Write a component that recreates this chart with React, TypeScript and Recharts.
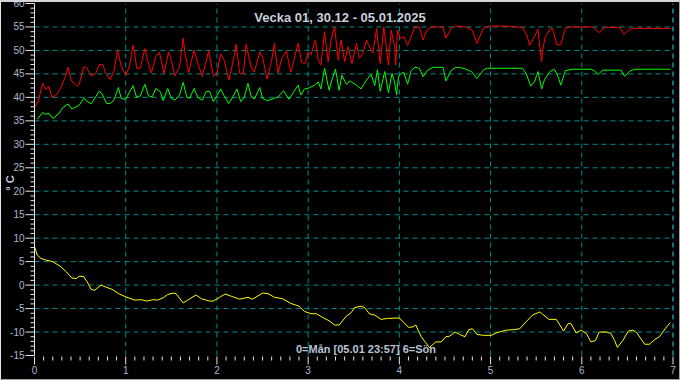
import React from 'react';
import { LineChart, Line, XAxis, YAxis, ReferenceLine } from 'recharts';

// [dag, °C] – 0 = måndag
const maxTemp: [number, number][] = [
  [0, 37.9], [0.04, 39.1], [0.09, 43.0], [0.12, 41.7], [0.16, 42.3], [0.19, 40.0], [0.24, 40.5],
  [0.28, 41.7], [0.33, 44.0], [0.37, 46.4], [0.4, 43.7], [0.46, 42.4], [0.49, 42.8], [0.54, 46.5],
  [0.57, 46.4], [0.62, 44.6], [0.67, 45.0], [0.71, 47.0], [0.75, 47.0], [0.78, 45.1], [0.83, 43.8],
  [0.87, 45.5], [0.91, 50.1], [0.95, 46.7], [1.0, 44.7], [1.04, 46.5], [1.08, 51.1], [1.1, 49.2],
  [1.12, 46.2], [1.16, 46.2], [1.21, 50.4], [1.24, 47.9], [1.28, 45.2], [1.33, 48.7], [1.37, 49.6],
  [1.42, 45.1], [1.47, 49.7], [1.5, 47.9], [1.54, 44.6], [1.59, 46.5], [1.63, 52.6], [1.65, 49.4],
  [1.69, 45.3], [1.75, 50.1], [1.79, 47.2], [1.84, 44.5], [1.91, 49.9], [1.96, 44.5], [2.0, 45.1],
  [2.04, 49.2], [2.08, 47.9], [2.13, 43.7], [2.18, 47.9], [2.21, 51.3], [2.25, 45.1], [2.29, 45.1],
  [2.32, 51.3], [2.375, 46.5], [2.41, 45.4], [2.47, 49.7], [2.5, 48.6], [2.55, 43.9], [2.6, 47.9],
  [2.63, 51.5], [2.67, 45.1], [2.71, 48.3], [2.76, 49.9], [2.81, 45.4], [2.84, 47.6], [2.89, 51.5],
  [2.93, 47.4], [2.97, 47.2], [3.0, 49.7], [3.03, 49.0], [3.08, 52.2], [3.11, 47.9], [3.14, 46.9],
  [3.18, 54.0], [3.22, 47.6], [3.25, 52.2], [3.29, 55.0], [3.33, 47.9], [3.36, 52.2], [3.4, 47.6],
  [3.44, 50.8], [3.48, 47.2], [3.53, 51.5], [3.56, 48.3], [3.6, 49.4], [3.64, 52.2], [3.67, 50.8],
  [3.71, 49.4], [3.75, 54.7], [3.79, 47.2], [3.83, 55.0], [3.88, 46.9], [3.91, 54.3], [3.95, 50.8],
  [3.96, 46.9], [3.98, 54.3], [4.01, 52.6], [4.05, 52.9], [4.09, 51.1], [4.13, 52.9], [4.17, 55.0],
  [4.22, 55.0], [4.26, 52.2], [4.3, 54.3], [4.35, 55.0], [4.48, 55.0], [4.51, 52.6], [4.57, 54.7],
  [4.62, 55.2], [4.73, 55.0], [4.8, 54.3], [4.85, 51.5], [4.92, 54.7], [4.99, 55.2], [5.15, 55.2],
  [5.35, 54.9], [5.39, 53.6], [5.43, 51.1], [5.48, 52.9], [5.52, 54.5], [5.54, 50.8], [5.56, 47.6],
  [5.57, 50.1], [5.6, 52.9], [5.65, 54.5], [5.68, 54.7], [5.73, 51.1], [5.77, 51.3], [5.82, 54.7],
  [5.87, 55.0], [6.12, 55.0], [6.19, 53.8], [6.25, 54.9], [6.42, 54.9], [6.46, 53.4], [6.53, 54.5],
  [6.56, 54.7], [6.97, 54.7],
];

const midTemp: [number, number][] = [
  [0.03, 35.3], [0.09, 36.8], [0.12, 36.4], [0.16, 36.6], [0.2, 35.5], [0.26, 36.4], [0.31, 37.8],
  [0.37, 38.6], [0.41, 37.5], [0.49, 38.3], [0.54, 39.8], [0.57, 39.3], [0.62, 38.6], [0.71, 41.3],
  [0.74, 40.8], [0.79, 38.7], [0.83, 38.7], [0.87, 39.4], [0.92, 42.1], [0.95, 39.8], [1.0, 39.6],
  [1.08, 42.5], [1.12, 40.0], [1.16, 40.3], [1.21, 42.8], [1.25, 40.3], [1.29, 40.1], [1.33, 41.9],
  [1.38, 41.2], [1.41, 39.3], [1.46, 41.9], [1.5, 39.8], [1.54, 39.4], [1.59, 40.5], [1.63, 43.2],
  [1.67, 40.0], [1.7, 39.8], [1.75, 41.9], [1.79, 40.0], [1.84, 39.4], [1.88, 41.2], [1.92, 41.3],
  [1.96, 39.1], [2.0, 40.3], [2.04, 41.8], [2.08, 40.3], [2.13, 38.7], [2.18, 40.3], [2.22, 41.8],
  [2.26, 39.1], [2.3, 40.0], [2.34, 43.0], [2.375, 40.3], [2.41, 39.6], [2.47, 42.1], [2.5, 39.8],
  [2.55, 39.3], [2.63, 39.8], [2.67, 40.1], [2.73, 41.4], [2.79, 39.6], [2.83, 40.8], [2.89, 42.6],
  [2.92, 40.5], [2.96, 41.8], [3.01, 42.0], [3.07, 42.6], [3.11, 43.3], [3.14, 41.8], [3.18, 46.2],
  [3.23, 41.5], [3.26, 43.7], [3.3, 46.0], [3.34, 41.5], [3.37, 44.7], [3.42, 42.8], [3.46, 43.5],
  [3.53, 42.6], [3.58, 41.8], [3.64, 43.7], [3.69, 44.9], [3.73, 42.5], [3.76, 45.9], [3.79, 41.3],
  [3.84, 45.5], [3.88, 41.0], [3.92, 45.1], [3.95, 43.0], [3.97, 40.5], [3.99, 44.4], [4.02, 45.1],
  [4.05, 45.3], [4.09, 42.8], [4.13, 45.7], [4.17, 46.4], [4.22, 46.2], [4.26, 44.4], [4.31, 45.8],
  [4.37, 46.4], [4.48, 46.4], [4.51, 43.5], [4.57, 45.8], [4.62, 46.4], [4.66, 46.4], [4.73, 46.0],
  [4.79, 45.5], [4.85, 44.0], [4.92, 45.8], [4.96, 46.2], [5.35, 46.2], [5.39, 45.1], [5.44, 42.4],
  [5.48, 43.3], [5.52, 45.5], [5.56, 41.8], [5.59, 43.7], [5.65, 45.5], [5.7, 46.0], [5.74, 44.4],
  [5.77, 42.6], [5.82, 45.7], [5.9, 46.0], [6.1, 46.0], [6.14, 45.6], [6.18, 44.9], [6.23, 45.8],
  [6.43, 45.8], [6.47, 44.5], [6.53, 45.6], [6.58, 46.0], [6.97, 46.0],
];

const outTemp: [number, number][] = [
  [0, 8.2], [0.03, 6.4], [0.07, 5.7], [0.13, 5.3], [0.2, 5.0], [0.29, 3.9], [0.35, 2.8], [0.41, 1.5],
  [0.46, 1.4], [0.49, 1.9], [0.54, 1.8], [0.59, 0.3], [0.62, -0.9], [0.66, -1.1], [0.73, 0.0],
  [0.78, -0.4], [0.85, -0.9], [0.93, -1.9], [1.0, -2.5], [1.1, -3.2], [1.17, -3.1], [1.23, -3.4],
  [1.3, -3.1], [1.35, -3.2], [1.41, -2.7], [1.46, -2.0], [1.52, -1.7], [1.55, -1.8], [1.63, -3.8],
  [1.68, -3.2], [1.77, -2.1], [1.83, -2.9], [1.92, -3.4], [1.96, -3.4], [2.03, -2.6], [2.09, -1.9],
  [2.16, -2.4], [2.25, -3.0], [2.34, -2.6], [2.39, -3.0], [2.45, -2.3], [2.5, -1.7], [2.56, -1.8],
  [2.63, -2.6], [2.72, -2.9], [2.81, -3.9], [2.9, -4.5], [2.96, -5.6], [3.03, -6.1], [3.09, -6.1],
  [3.16, -6.9], [3.23, -7.6], [3.29, -8.5], [3.34, -8.5], [3.42, -6.6], [3.47, -5.9], [3.51, -4.8],
  [3.58, -4.5], [3.62, -4.8], [3.67, -6.1], [3.73, -6.4], [3.8, -7.3], [3.87, -7.1], [4.0, -7.0],
  [4.05, -8.0], [4.1, -9.0], [4.15, -8.9], [4.18, -8.5], [4.24, -11.0], [4.29, -12.3], [4.33, -13.3],
  [4.4, -12.1], [4.46, -12.1], [4.51, -11.0], [4.55, -10.9], [4.61, -10.0], [4.66, -10.5],
  [4.72, -11.0], [4.76, -9.5], [4.8, -9.3], [4.85, -10.5], [4.92, -10.7], [5.01, -10.7],
  [5.06, -10.2], [5.17, -9.6], [5.25, -9.5], [5.32, -9.3], [5.39, -7.8], [5.46, -6.4], [5.54, -5.7],
  [5.57, -6.2], [5.64, -7.3], [5.72, -7.3], [5.76, -8.5], [5.8, -9.8], [5.85, -8.2], [5.88, -8.2],
  [5.94, -10.2], [5.99, -9.6], [6.05, -10.3], [6.1, -12.1], [6.15, -11.8], [6.19, -10.0],
  [6.27, -10.0], [6.32, -10.3], [6.36, -11.8], [6.39, -13.3], [6.45, -11.8], [6.51, -9.8],
  [6.56, -9.6], [6.6, -10.1], [6.69, -12.6], [6.74, -12.6], [6.8, -11.6], [6.85, -11.0],
  [6.93, -8.9], [6.97, -8.0],
];

const yGridValues = [-10, -5, 0, 5, 10, 15, 20, 25, 30, 35, 40, 45, 50, 55];
const xGridValues = [1, 2, 3, 4, 5, 6, 7];
const yTicks = Array.from({ length: 76 }, (_, i) => i - 15);
const xTicks = Array.from({ length: 71 }, (_, i) => i / 10);

const title = 'Vecka 01, 30.12 - 05.01.2025';
const footer = '0=Mån [05.01 23:57] 6=Sön';
const unitLabel = '° C';

const FONT = 'Liberation Sans, Arial, sans-serif';
const LABEL = '#a8b8d0';
const TICK = '#e6e6e6';
const GRID = '#008c8c';

const toPoints = (rows: [number, number][]) => rows.map(([d, v]) => ({ d, v }));

const YTick = ({ x, y, payload }: any) => {
  const major = payload.value % 5 === 0;
  return (
    <g>
      <line x1={x - (major ? 9 : 4)} x2={x} y1={y} y2={y} stroke={TICK} />
      {major && (
        <text x={x - 10} y={y} dy={3.5} textAnchor="end" fontSize={10} fontFamily={FONT} fill={LABEL}>
          {payload.value}
        </text>
      )}
    </g>
  );
};

const XTick = ({ x, y, payload }: any) => {
  const major = Math.abs(payload.value - Math.round(payload.value)) < 1e-6;
  return (
    <g>
      <line x1={x} x2={x} y1={y + 1} y2={y + (major ? 9 : 5)} stroke={TICK} />
      {major && (
        <text x={x} y={y + 18} textAnchor="middle" fontSize={10} fontFamily={FONT} fill={LABEL}>
          {Math.round(payload.value)}
        </text>
      )}
    </g>
  );
};

const App: React.FC = () => {
  return (
    <div style={{ position: 'absolute', left: 0, top: 0, width: 680, height: 380, background: '#000' }}>
      <LineChart width={680} height={380} margin={{ top: 3.5, right: 7, bottom: 0, left: 0 }}>
        <XAxis
          type="number"
          dataKey="d"
          domain={[0, 7]}
          ticks={xTicks}
          interval={0}
          tick={XTick}
          tickSize={0}
          tickMargin={0}
          tickLine={false}
          axisLine={false}
          height={24.5}
          allowDuplicatedCategory={false}
        />
        <YAxis
          type="number"
          domain={[-15, 60]}
          ticks={yTicks}
          interval={0}
          tick={YTick}
          tickSize={0}
          tickMargin={0}
          tickLine={false}
          axisLine={{ stroke: TICK }}
          width={34.5}
        />
        {yGridValues.map((v) => (
          <ReferenceLine key={`y${v}`} y={v} stroke={GRID} strokeDasharray="5 4" />
        ))}
        {xGridValues.map((v) => (
          <ReferenceLine key={`x${v}`} x={v} stroke={v === 7 ? '#20d8e8' : GRID} strokeDasharray="5 4" />
        ))}
        <Line data={toPoints(maxTemp)} dataKey="v" stroke="#ff0000" strokeWidth={1} dot={false} activeDot={false} isAnimationActive={false} />
        <Line data={toPoints(midTemp)} dataKey="v" stroke="#00ff00" strokeWidth={1} dot={false} activeDot={false} isAnimationActive={false} />
        <Line data={toPoints(outTemp)} dataKey="v" stroke="#ffff00" strokeWidth={1} dot={false} activeDot={false} isAnimationActive={false} />
      </LineChart>
      <svg width={680} height={380} style={{ position: 'absolute', left: 0, top: 0, pointerEvents: 'none' }}>
        <text x={340} y={21.5} textAnchor="middle" fontSize={13} fontWeight="bold" fontFamily={FONT} fill="#c8d0dc">
          {title}
        </text>
        <text x={366} y={353} textAnchor="middle" fontSize={11} fontWeight="bold" fontFamily={FONT} fill="#b8c4d4">
          {footer}
        </text>
        <text
          x={0}
          y={0}
          transform="translate(14 183) rotate(-90)"
          textAnchor="middle"
          fontSize={11}
          fontWeight="bold"
          fontFamily={FONT}
          fill="#c8d0dc"
        >
          {unitLabel}
        </text>
      </svg>
      <div
        style={{
          position: 'absolute',
          left: 0,
          top: 0,
          width: 680,
          height: 380,
          boxSizing: 'border-box',
          borderTop: '2px solid #d4d4d4',
          borderLeft: '1px solid #e4e4e4',
          borderRight: '1px solid #a0a0a0',
          borderBottom: '1px solid #a0a0a0',
          pointerEvents: 'none',
        }}
      />
    </div>
  );
};

export default App;
